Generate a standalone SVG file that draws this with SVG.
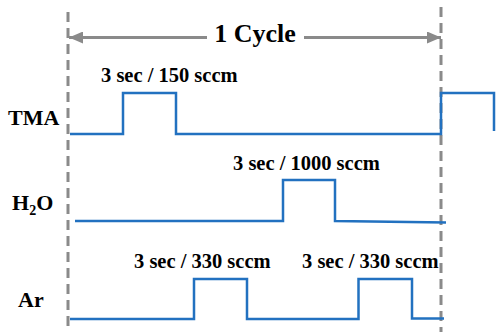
<svg xmlns="http://www.w3.org/2000/svg" width="496" height="332" viewBox="0 0 496 332">
<style>
.lbl{font-family:"Liberation Serif","Times New Roman",serif;font-weight:bold;fill:#000}
.big{font-size:26px}
.name{font-size:22px}
.note{font-size:20.5px}
.sig{fill:none;stroke:#2271c0;stroke-width:2.5;stroke-linejoin:miter}
.dash{stroke:#8a8a8a;stroke-width:3;stroke-dasharray:10 6}
.arr{stroke:#8a8a8a;stroke-width:3}
</style>
<defs>
<marker id="ah" markerWidth="14" markerHeight="12" refX="14" refY="6" orient="auto-start-reverse" markerUnits="userSpaceOnUse">
<path d="M0,0 L14,6 L0,12 Z" fill="#8a8a8a"/>
</marker>
</defs>
<rect width="496" height="332" fill="#fff"/>
<g id="guides">
<line class="dash" x1="68" y1="12" x2="68" y2="332"/>
<line class="dash" x1="441" y1="7" x2="441" y2="332"/>
</g>
<g id="connectors">
<line class="arr" x1="69" y1="37.5" x2="207" y2="37.5" marker-start="url(#ah)"/>
<line class="arr" x1="304" y1="37.5" x2="441" y2="37.5" marker-end="url(#ah)"/>
</g>
<g id="cycle">
<text class="lbl big" x="255" y="42" text-anchor="middle">1 Cycle</text>
</g>
<g id="tma">
<text class="lbl name" x="8" y="125">TMA</text>
<text class="lbl note" x="101" y="82">3 sec / 150 sccm</text>
<path class="sig" d="M70,134 H123 V93 H176 V134 H441 V93 H494 V131"/>
</g>
<g id="h2o">
<text class="lbl name" x="12" y="210">H<tspan font-size="14" dy="5">2</tspan><tspan dy="-5">O</tspan></text>
<text class="lbl note" x="233" y="170">3 sec / 1000 sccm</text>
<path class="sig" d="M75,221 H283 V180 H335 V221 L446,222.5"/>
</g>
<g id="ar">
<text class="lbl name" x="18" y="307">Ar</text>
<text class="lbl note" x="134" y="268">3 sec / 330 sccm</text>
<text class="lbl note" x="302" y="268">3 sec / 330 sccm</text>
<path class="sig" d="M70,319 H194 V279 H247 V319 H358.5 V279 H412 V318.5 H444"/>
</g>
</svg>
